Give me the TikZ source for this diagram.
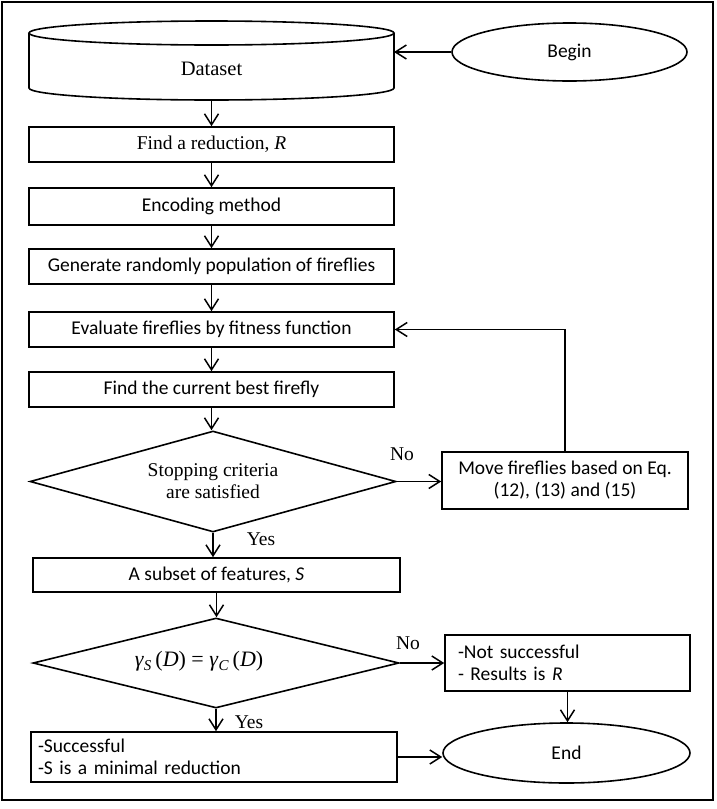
\documentclass[tikz,border=0pt]{standalone}
\usepackage{fontspec}
\setmainfont{Liberation Serif}
\newfontfamily\calfont{Carlito}
\usetikzlibrary{arrows.meta,shapes.geometric}
\newcommand{\subsc}[1]{\raisebox{-4pt}{\fontsize{15}{15}\selectfont\textit{#1}}}
\begin{document}
\begin{tikzpicture}[x=1pt,y=-1pt,line width=1.6pt,
  arr/.style={-{Straight Barb[length=11pt,width=14pt,line width=1.5pt]}},
  sf/.style={font={\calfont\fontsize{19.5}{22}\selectfont}},
  rm/.style={font={\rmfamily\fontsize{19.5}{22}\selectfont}},
  box/.style={draw,rectangle,inner sep=0pt,minimum width=365pt,minimum height=35pt,sf},
  dia/.style={draw,diamond,inner sep=0pt,rm,align=center},
  oval/.style={draw,ellipse,inner sep=0pt,sf},
  lbl/.style={rm,inner sep=0pt}]
\useasboundingbox (0,0) rectangle (717,809);
\draw (2,2) rectangle (713,800);
% cylinder
\draw (211.5,33) ellipse [x radius=182.5, y radius=12];
\draw (29,33) -- (29,88) arc[start angle=180, end angle=0, x radius=182.5, y radius=12] -- (394,33);
\coordinate (dsbot) at (211.5,100);
\coordinate (dsright) at (394,52);
\node[rm,font={\rmfamily\fontsize{20.5}{22}\selectfont}] (ds) at (211.5,69) {Dataset};
\node[oval,minimum width=235pt,minimum height=58pt] (begin) at (569.5,52) {Begin};
\node[box,rm] (red) at (211.5,144.5) {Find a reduction, \textit{R}};
\node[box,minimum height=37pt] (enc) at (211.5,206.5) {Encoding method};
\node[box] (gen) at (211.5,266.5) {Generate randomly population of fireflies};
\node[box] (eval) at (211.5,329.5) {Evaluate fireflies by fitness function};
\node[box] (best) at (211.5,389.5) {Find the current best firefly};
\node[dia,minimum width=366pt,minimum height=101pt,aspect=3.6] (d1) at (213,481.5) {Stopping criteria\\are satisfied};
\node[box,minimum width=246pt,minimum height=57pt,align=center] (mv) at (565,480.5) {Move fireflies based on Eq.\\(12), (13) and (15)};
\node[box,minimum width=367pt,minimum height=34pt] (sub) at (216.5,575) {A subset of features, \textit{S}};
\node[dia,minimum width=366pt,minimum height=90pt,aspect=4] (d2) at (216,663) {};
\node[inner sep=0pt,font={\rmfamily\fontsize{22}{22}\selectfont}] (eq) at (199,661) {\textit{γ}\subsc{S}\hspace{4pt}(\textit{D}) = \textit{γ}\subsc{C}\hspace{4pt}(\textit{D})};
\node[box,minimum width=245pt,minimum height=56pt,text width=219pt,inner xsep=13pt,align=left] (ns) at (567.5,663) {-Not successful\\- Results is \textit{R}};
\node[box,minimum width=366pt,minimum height=50pt,text width=352pt,inner xsep=7pt,align=left] (succ) at (214,757) {-Successful\\-S is a minimal reduction};
\node[oval,minimum width=247pt,minimum height=60pt] (end) at (566.5,753) {End};
\node[lbl] (no1) at (402,454) {No};
\node[lbl] (yes1) at (261,539) {Yes};
\node[lbl] (no2) at (408,643) {No};
\node[lbl] (yes2) at (249,722) {Yes};
% connectors
\draw[arr] (begin.west) -- (begin.west -| dsright);
\draw[arr] (dsbot) -- (dsbot |- red.north);
\draw[arr] (red.south) -- (enc.north);
\draw[arr] (enc.south) -- (gen.north);
\draw[arr] (gen.south) -- (eval.north);
\draw[arr] (eval.south) -- (best.north);
\draw[arr] (best.south) -- (best.south |- d1.north);
\draw[arr] (d1.east) -- (d1.east -| mv.west);
\draw[arr] (mv.north) |- (eval.east);
\draw[arr] (d1.south) -- (d1.south |- sub.north);
\draw[arr] (sub.south) -- (sub.south |- d2.north);
\draw[arr] (d2.east) -- (d2.east -| ns.west);
\draw[arr] (d2.south) -- (d2.south |- succ.north);
\draw[arr] (ns.south) -- (ns.south |- end.north);
\draw[arr] (succ.east) -- (succ.east -| end.west);
\end{tikzpicture}
\end{document}
